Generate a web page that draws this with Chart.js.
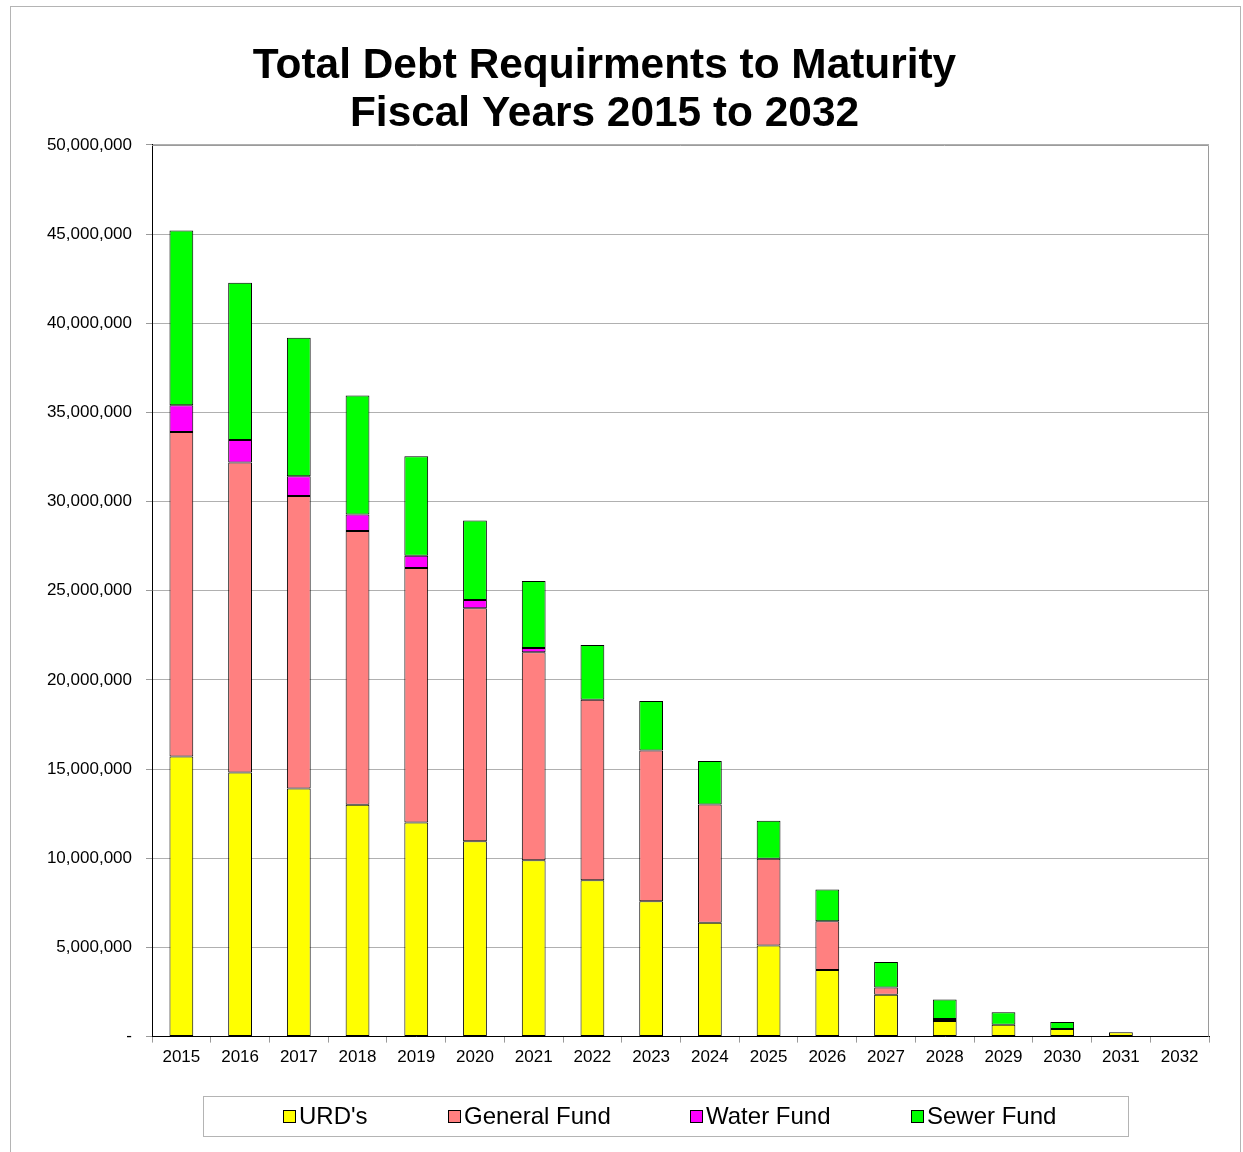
<!DOCTYPE html>
<html>
<head>
<meta charset="utf-8">
<script src="https://cdn.jsdelivr.net/npm/chart.js@4.4.1/dist/chart.umd.min.js"></script>
<style>
  html, body { margin: 0; padding: 0; background: #ffffff; }
  #frame { position: absolute; left: 10px; top: 6px; width: 1231px; height: 1170px;
           border: 1px solid #b4b4b4; box-sizing: border-box; }
  #wrap { position: absolute; left: 0; top: 0; width: 1212px; height: 1152px; }
</style>
</head>
<body>
<div id="frame"></div>
<div id="wrap"><canvas id="c" width="1212" height="1152"></canvas></div>
<script>
const years = ['2015','2016','2017','2018','2019','2020','2021','2022','2023','2024','2025','2026','2027','2028','2029','2030','2031','2032'];
const urds        = [15710000,14810000,13920000,13000000,12010000,10960000,9890000,8770000,7590000,6380000,5110000,3740000,2340000,880000,660000,430000,240000,0];
const generalFund = [18190000,17380000,16400000,15360000,14270000,13060000,11660000,10120000,8460000,6640000,4860000,2730000,410000,110000,0,0,0,0];
const waterFund   = [1500000,1270000,1110000,920000,680000,470000,240000,0,0,0,0,0,0,0,0,0,0,0];
const sewerFund   = [9800000,8810000,7760000,6670000,5590000,4450000,3760000,3070000,2770000,2430000,2130000,1780000,1440000,1090000,700000,390000,0,0];
const yTicks = [0,5000000,10000000,15000000,20000000,25000000,30000000,35000000,40000000,45000000,50000000];
const titleLines = ['Total Debt Requirments to Maturity', 'Fiscal Years 2015 to 2032'];

const FONT = "'Liberation Sans', Arial, Helvetica, sans-serif";

function ds(label, data, color) {
  return { label, data, backgroundColor: color, borderColor: '#000000', borderWidth: 1,
           borderSkipped: false, barPercentage: 1.0, categoryPercentage: 0.405 };
}

const frameAndLegend = {
  id: 'frameAndLegend',
  beforeDatasetsDraw(chart) {
    const {ctx, chartArea: a} = chart;
    ctx.save();
    ctx.strokeStyle = '#9a9a9a';
    ctx.lineWidth = 1;
    ctx.beginPath();
    ctx.moveTo(a.left, a.top + 0.5);
    ctx.lineTo(a.right - 0.5, a.top + 0.5);
    ctx.lineTo(a.right - 0.5, a.bottom);
    ctx.stroke();
    ctx.restore();
  },
  afterDraw(chart) {
    const {ctx} = chart;
    ctx.save();
    const bx = 203, by = 1096, bw = 925, bh = 40;
    ctx.strokeStyle = '#b4b4b4';
    ctx.lineWidth = 1;
    ctx.strokeRect(bx + 0.5, by + 0.5, bw, bh);
    ctx.font = '24px ' + FONT;
    ctx.textBaseline = 'middle';
    const box = 12, gapText = 4, gapItem = 80;
    const items = chart.data.datasets.map(d => ({ label: d.label, color: d.backgroundColor,
      w: box + gapText + ctx.measureText(d.label).width }));
    const total = items.reduce((s, it) => s + it.w, 0) + gapItem * (items.length - 1);
    let x = Math.round(bx + bw / 2 - total / 2) + 4;
    const cy = by + bh / 2;
    items.forEach(it => {
      const xi = Math.round(x);
      ctx.fillStyle = it.color;
      ctx.fillRect(xi + 0.5, cy - box / 2 + 0.5, box, box);
      ctx.strokeStyle = '#000';
      ctx.strokeRect(xi + 0.5, cy - box / 2 + 0.5, box, box);
      ctx.fillStyle = '#000';
      ctx.fillText(it.label, xi + box + gapText, cy + 1.5);
      x += it.w + gapItem;
    });
    ctx.restore();
  }
};

new Chart(document.getElementById('c'), {
  type: 'bar',
  data: {
    labels: years,
    datasets: [
      ds("URD's", urds, '#ffff00'),
      ds('General Fund', generalFund, '#ff8080'),
      ds('Water Fund', waterFund, '#ff00ff'),
      ds('Sewer Fund', sewerFund, '#00ff00')
    ]
  },
  options: {
    responsive: false,
    animation: false,
    devicePixelRatio: 1,
    layout: { padding: { left: 0, right: 3, top: 0, bottom: 79 } },
    plugins: {
      legend: { display: false },
      tooltip: { enabled: false },
      title: {
        display: true,
        text: titleLines,
        color: '#000000',
        font: { family: FONT, size: 42.4, weight: 'bold', lineHeight: 1.132 },
        padding: { top: 42, bottom: 7 }
      }
    },
    scales: {
      x: {
        stacked: true,
        grid: { display: true, drawOnChartArea: false, drawTicks: true, tickLength: 6,
                offset: true, color: '#9a9a9a', tickColor: '#9a9a9a' },
        border: { display: true, color: '#000000', width: 1 },
        ticks: { color: '#000000', font: { family: FONT, size: 17 }, padding: 5,
                 maxRotation: 0, autoSkip: false }
      },
      y: {
        stacked: true,
        min: 0,
        max: 50000000,
        afterBuildTicks(scale) { scale.ticks = yTicks.map(v => ({ value: v })); },
        afterFit(scale) { scale.width = 152; },
        grid: { color: '#b0b0b0', tickColor: '#9a9a9a', tickLength: 6, drawTicks: true },
        border: { display: true, color: '#000000', width: 1 },
        ticks: {
          color: '#000000',
          font: { family: FONT, size: 17 },
          padding: 14,
          callback: (v) => v === 0 ? '-' : Number(v).toLocaleString('en-US')
        }
      }
    }
  },
  plugins: [frameAndLegend]
});
</script>
</body>
</html>
